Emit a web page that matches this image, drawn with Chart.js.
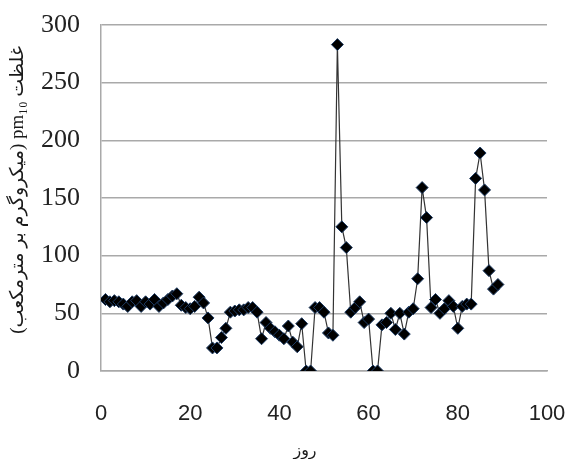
<!DOCTYPE html>
<html>
<head>
<meta charset="utf-8">
<script src="https://cdn.jsdelivr.net/npm/chart.js@4"></script>
<style>
  html, body { margin: 0; padding: 0; background: #fff; }
  #wrap { width: 568px; height: 459px; }
</style>
</head>
<body>
<div id="wrap"><canvas id="pmChart" width="568" height="459"></canvas></div>
<script>
// days of measurement
const days = [
  1, 2, 3, 4, 5, 6, 7, 8, 9, 10, 11, 12, 13, 14, 15, 16, 17, 18, 19, 20,
  21, 22, 23, 24, 25, 26, 27, 28, 29, 30, 31, 32, 33, 34, 35, 36, 37, 38, 39, 40,
  41, 42, 43, 44, 45, 46, 47, 48, 49, 50, 51, 52, 53, 54, 55, 56, 57, 58, 59, 60,
  61, 62, 63, 64, 65, 66, 67, 68, 69, 70, 71, 72, 73, 74, 75, 76, 77, 78, 79, 80,
  81, 82, 83, 84, 85, 86, 87, 88, 89
];

// pm10 concentration per day
const pm10 = [
  62, 60, 61, 60, 58, 56, 60, 61, 56, 60, 58, 62, 56, 59, 62, 65, 67, 57, 55, 54,
  56, 64, 59, 46, 20, 20, 29, 37, 51, 52, 53, 53, 55, 55, 51, 28, 42, 37, 34, 31,
  28, 39, 25, 21, 41, 0, 0, 55, 55, 51, 33, 31, 283, 125, 107, 51, 55, 60, 42, 45,
  0, 0, 40, 42, 50, 36, 50, 32, 51, 54, 80, 159, 133, 55, 62, 50, 54, 61, 56, 37,
  56, 58, 58, 167, 189, 157, 87, 71, 75
];

const xTicks = [0, 20, 40, 60, 80, 100];
const yTicks = [0, 50, 100, 150, 200, 250, 300];

const xTitle = "روز";
const yTitle = "\u202Bغلظت pm\u2081\u2080 (میکروگرم بر مترمکعب)\u202C";

const gridGray = "#a9a9a9";

// axis titles drawn by hand so the Persian text keeps its rtl order
const axisTitles = {
  id: "axisTitles",
  afterDraw(chart) {
    const { ctx, chartArea } = chart;
    ctx.save();
    ctx.fillStyle = "#1a1a1a";
    ctx.textAlign = "center";
    ctx.textBaseline = "middle";
    ctx.direction = "rtl";
    ctx.font = '16px "DejaVu Sans"';
    ctx.fillText(xTitle, chartArea.left + 204, chartArea.bottom + 80);
    ctx.translate(18, chartArea.top + 165);
    ctx.rotate(-Math.PI / 2);
    ctx.font = '19px "Liberation Serif", "DejaVu Sans"';
    ctx.fillText(yTitle, 0, 0);
    ctx.restore();
  }
};

const ctx = document.getElementById("pmChart").getContext("2d");

new Chart(ctx, {
  type: "line",
  data: {
    datasets: [
      {
        data: days.map((d, i) => ({ x: d, y: pm10[i] })),
        borderColor: "#333333",
        borderWidth: 1.2,
        pointStyle: "rectRot",
        pointRadius: 6,
        pointBackgroundColor: "#000000",
        pointBorderColor: "#1d3b63",
        pointBorderWidth: 1,
        tension: 0,
        fill: false,
      },
    ],
  },
  options: {
    responsive: false,
    animation: false,
    events: [],
    layout: { padding: { top: 25, right: 21, left: 0, bottom: 0 } },
    plugins: {
      legend: { display: false },
      tooltip: { enabled: false },
    },
    scales: {
      x: {
        type: "linear",
        min: 0,
        max: 100,
        afterFit: (scale) => {
          scale.height = 88;
          scale.paddingLeft = 0;
          scale.paddingRight = 0;
        },
        afterBuildTicks: (scale) => { scale.ticks = xTicks.map((v) => ({ value: v })); },
        grid: { display: false, drawTicks: false },
        border: { display: true, color: gridGray, width: 1.5 },
        ticks: {
          padding: 30,
          color: "#222",
          font: { family: '"Liberation Sans"', size: 22 },
        },
      },
      y: {
        min: 0,
        max: 300,
        afterFit: (scale) => {
          scale.width = 101;
          scale.paddingTop = 0;
          scale.paddingBottom = 0;
        },
        afterBuildTicks: (scale) => { scale.ticks = yTicks.map((v) => ({ value: v })); },
        grid: { color: gridGray, lineWidth: 1.5, drawTicks: false },
        border: { display: true, color: gridGray, width: 1.5 },
        ticks: {
          padding: 21,
          color: "#222",
          font: { family: '"Liberation Serif"', size: 26 },
        },
      },
    },
  },
  plugins: [axisTitles],
});
</script>
</body>
</html>
